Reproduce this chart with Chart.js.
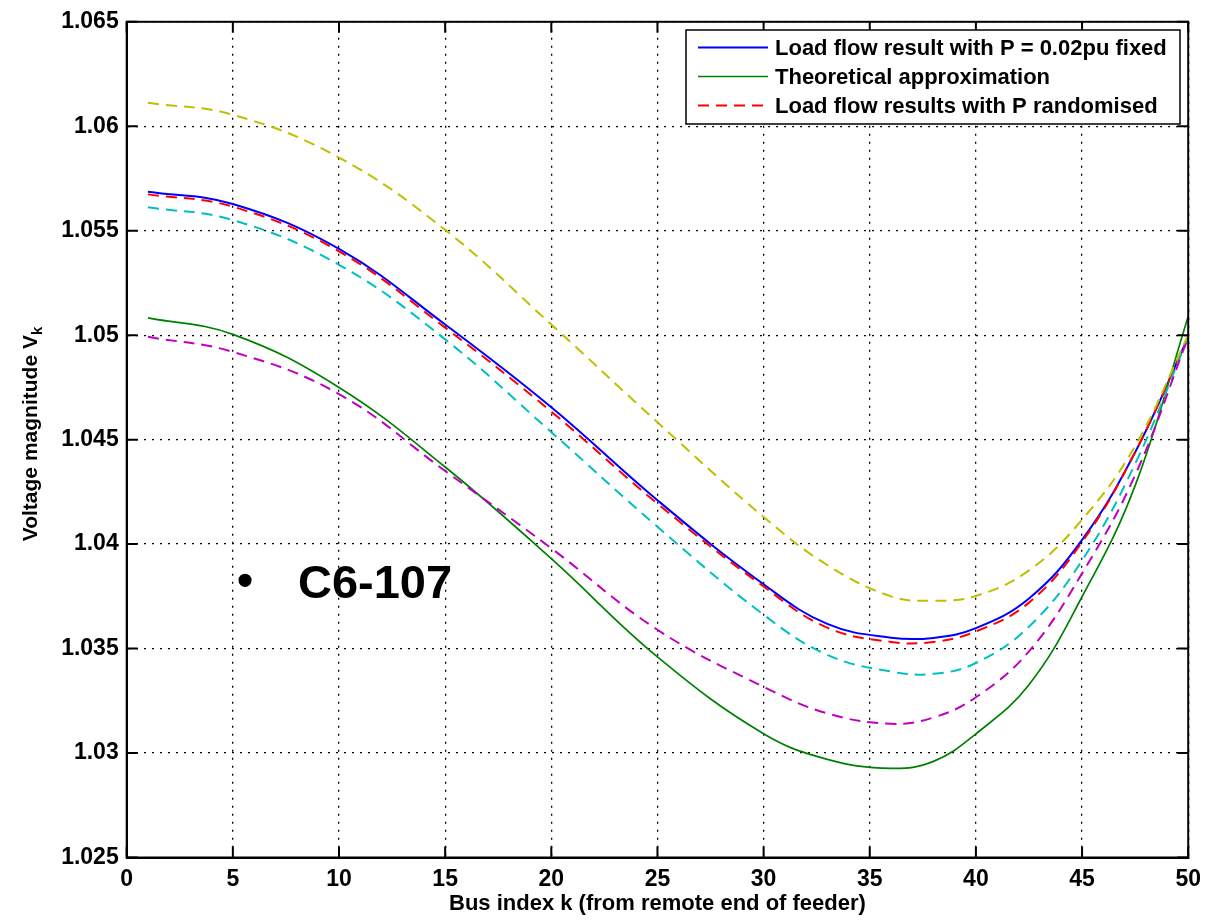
<!DOCTYPE html>
<html>
<head>
<meta charset="utf-8">
<title>Voltage profile along feeder</title>
<script src="https://cdn.jsdelivr.net/npm/chart.js@4/dist/chart.umd.min.js"></script>
<style>
  body { margin: 0; background: #fff; }
  #wrap { width: 1209px; height: 923px; }
</style>
</head>
<body>
<div id="wrap"><canvas id="voltageChart" width="1209" height="923"></canvas></div>
<script>
const busIndex = [1, 5, 10, 15, 20, 25, 30, 33, 36, 38, 40, 42.5, 45, 47.5, 50];

const fixedP     = [1.05687, 1.05628, 1.05413, 1.05051, 1.04655, 1.0421, 1.03808, 1.03618, 1.03552, 1.03551, 1.03598, 1.0374, 1.0402, 1.0444, 1.0499];
const theory     = [1.05083, 1.05004, 1.0475, 1.04369, 1.0393, 1.0346, 1.03092, 1.0297, 1.02927, 1.0296, 1.03092, 1.03327, 1.03748, 1.0428, 1.0509];
const randomRun1 = [1.05674, 1.05615, 1.05401, 1.05036, 1.04634, 1.04194, 1.03797, 1.036, 1.03532, 1.03532, 1.03582, 1.0372, 1.0401, 1.0444, 1.0499];
const randomRun2 = [1.05612, 1.05551, 1.05337, 1.0498, 1.04536, 1.04083, 1.03662, 1.0347, 1.0339, 1.03379, 1.03431, 1.03605, 1.03922, 1.04384, 1.0499];
const randomRun3 = [1.04992, 1.0492, 1.04718, 1.0435, 1.0398, 1.0359, 1.03317, 1.0319, 1.0314, 1.0317, 1.03267, 1.03487, 1.0386, 1.0433, 1.0499];
const randomRun4 = [1.06112, 1.06055, 1.0585, 1.05504, 1.05051, 1.04583, 1.0413, 1.039, 1.0375, 1.03729, 1.03752, 1.03874, 1.04117, 1.0447, 1.0500];

const legendLabels = [
    'Load flow result with P = 0.02pu fixed',
    'Theoretical approximation',
    'Load flow results with P randomised'
];

const xTickValues = [0, 5, 10, 15, 20, 25, 30, 35, 40, 45, 50];
const yTickValues = [1.025, 1.03, 1.035, 1.04, 1.045, 1.05, 1.055, 1.06, 1.065];
const yTickLabels = ['1.025', '1.03', '1.035', '1.04', '1.045', '1.05', '1.055', '1.06', '1.065'];

const FONT = '"Liberation Sans", Arial, Helvetica, sans-serif';
const DASH = [11, 7];

const toPoints = arr => arr.map((v, i) => ({ x: busIndex[i], y: v }));

// MATLAB style box, inward ticks, legend, y label with subscript and the slide note
const matlabFrame = {
    id: 'matlabFrame',
    afterDraw(chart) {
        const { ctx, chartArea: a, scales: { x, y } } = chart;
        ctx.save();

        ctx.strokeStyle = '#000';
        ctx.lineWidth = 2;
        ctx.setLineDash([]);
        ctx.beginPath();
        x.ticks.forEach(t => {
            const px = x.getPixelForValue(t.value);
            ctx.moveTo(px, a.bottom); ctx.lineTo(px, a.bottom - 11);
            ctx.moveTo(px, a.top); ctx.lineTo(px, a.top + 11);
        });
        y.ticks.forEach(t => {
            const py = y.getPixelForValue(t.value);
            ctx.moveTo(a.left, py); ctx.lineTo(a.left + 11, py);
            ctx.moveTo(a.right, py); ctx.lineTo(a.right - 11, py);
        });
        ctx.stroke();
        ctx.strokeRect(a.left, a.top, a.right - a.left, a.bottom - a.top);

        // legend box (only the first three series)
        const box = { x: 686, y: 30, w: 494, h: 94 };
        ctx.fillStyle = '#fff';
        ctx.fillRect(box.x, box.y, box.w, box.h);
        ctx.lineWidth = 1.5;
        ctx.strokeRect(box.x, box.y, box.w, box.h);
        ctx.font = 'bold 22px ' + FONT;
        ctx.textBaseline = 'middle';
        ctx.textAlign = 'left';
        legendLabels.forEach((label, i) => {
            const ds = chart.data.datasets[i];
            const rowY = 47.5 + i * 29;
            ctx.strokeStyle = ds.borderColor;
            ctx.lineWidth = ds.borderWidth;
            ctx.setLineDash(ds.borderDash || []);
            ctx.beginPath();
            ctx.moveTo(698, rowY);
            ctx.lineTo(768, rowY);
            ctx.stroke();
            ctx.setLineDash([]);
            ctx.fillStyle = '#000';
            ctx.fillText(label, 775, rowY + 1);
        });

        // y axis title with subscript k
        ctx.save();
        ctx.translate(37, 434);
        ctx.rotate(-Math.PI / 2);
        ctx.fillStyle = '#000';
        ctx.textBaseline = 'alphabetic';
        ctx.font = 'bold 21px ' + FONT;
        const main = 'Voltage magnitude V';
        const wMain = ctx.measureText(main).width;
        ctx.font = 'bold 15px ' + FONT;
        const wSub = ctx.measureText('k').width;
        const start = -(wMain + wSub) / 2;
        ctx.font = 'bold 21px ' + FONT;
        ctx.fillText(main, start, 0);
        ctx.font = 'bold 15px ' + FONT;
        ctx.fillText('k', start + wMain, 5);
        ctx.restore();

        // slide note
        ctx.fillStyle = '#000';
        ctx.textBaseline = 'alphabetic';
        ctx.textAlign = 'center';
        ctx.font = 'bold 46px ' + FONT;
        ctx.fillText('\u2022', 245, 596);
        ctx.textAlign = 'left';
        ctx.font = 'bold 47px ' + FONT;
        ctx.fillText('C6-107', 298, 598);

        ctx.restore();
    }
};

new Chart(document.getElementById('voltageChart'), {
    type: 'line',
    data: {
        datasets: [
            { label: legendLabels[0], data: toPoints(fixedP), borderColor: '#0000ff', borderWidth: 2, order: 6 },
            { label: legendLabels[1], data: toPoints(theory), borderColor: '#008000', borderWidth: 1.7, order: 5 },
            { label: legendLabels[2], data: toPoints(randomRun1), borderColor: '#ff0000', borderWidth: 2, borderDash: DASH, order: 4 },
            { label: 'run 2', data: toPoints(randomRun2), borderColor: '#00bfbf', borderWidth: 2, borderDash: DASH, order: 3 },
            { label: 'run 3', data: toPoints(randomRun3), borderColor: '#bf00bf', borderWidth: 2, borderDash: DASH, order: 2 },
            { label: 'run 4', data: toPoints(randomRun4), borderColor: '#bfbf00', borderWidth: 2, borderDash: DASH, order: 1 }
        ]
    },
    options: {
        responsive: false,
        animation: false,
        events: [],
        elements: {
            point: { radius: 0 },
            line: { tension: 0.4, fill: false }
        },
        layout: { padding: { left: 0, right: 16.3, top: 17.5, bottom: 0 } },
        scales: {
            x: {
                type: 'linear',
                min: 0,
                max: 50,
                afterBuildTicks: s => { s.ticks = xTickValues.map(v => ({ value: v })); },
                afterFit: s => { s.height = 65.5; },
                ticks: {
                    color: '#000',
                    padding: 8,
                    font: { family: FONT, size: 23, weight: 'bold' },
                    maxRotation: 0,
                    callback: v => String(v)
                },
                grid: { color: '#000', lineWidth: 1.3, drawTicks: false },
                border: { display: true, color: '#000', width: 2, dash: [2, 6] },
                title: {
                    display: true,
                    text: 'Bus index k (from remote end of feeder)',
                    color: '#000',
                    font: { family: FONT, size: 22, weight: 'bold' },
                    padding: { top: 0, bottom: 6 }
                }
            },
            y: {
                type: 'linear',
                min: 1.025,
                max: 1.065,
                afterBuildTicks: s => { s.ticks = yTickValues.map(v => ({ value: v })); },
                afterFit: s => { s.width = 126.7; },
                ticks: {
                    color: '#000',
                    padding: 8,
                    font: { family: FONT, size: 23, weight: 'bold' },
                    callback: (v, i) => yTickLabels[i]
                },
                grid: { color: '#000', lineWidth: 1.3, drawTicks: false },
                border: { display: true, color: '#000', width: 2, dash: [2, 6] }
            }
        },
        plugins: {
            legend: { display: false },
            tooltip: { enabled: false }
        }
    },
    plugins: [matlabFrame]
});
</script>
</body>
</html>
